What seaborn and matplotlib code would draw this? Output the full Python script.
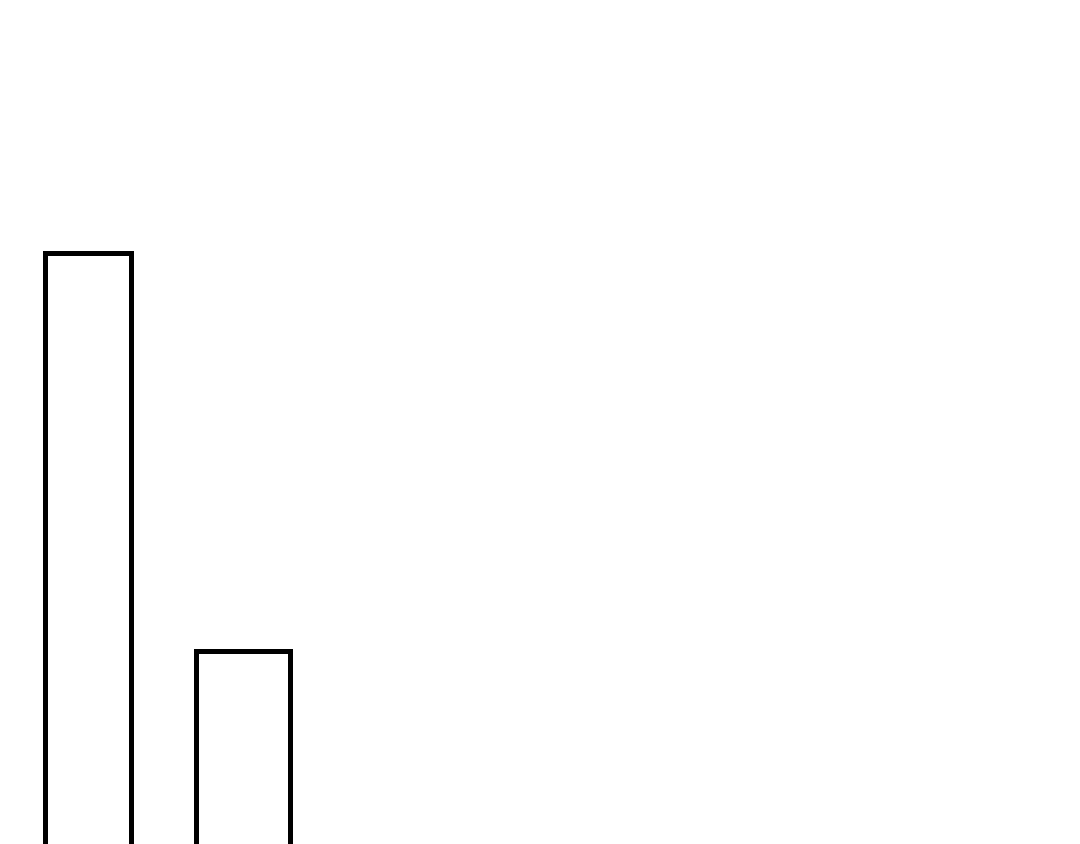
import matplotlib
matplotlib.use("Agg")
import matplotlib.pyplot as plt
import seaborn as sns
import pandas as pd

categories = ["A", "B"]
values = [10, 5]

sns.set_theme(style="white")
df = pd.DataFrame({"category": categories, "value": values})

fig = plt.figure(figsize=(10.8, 8.44), dpi=100)
ax = fig.add_axes([0, 0, 1, 1])
sns.barplot(data=df, x="category", y="value", ax=ax, color="white",
            edgecolor="black", linewidth=3.6, width=0.575, saturation=1)

# per-bar widths (styling)
bar_widths = [0.55, 0.605]
for p, w in zip(ax.patches, bar_widths):
    c = p.get_x() + p.get_width() / 2
    p.set_x(c - w / 2)
    p.set_width(w)

ax.set_xlim(-88 / 155, (1080 - 88) / 155)
ax.set_ylim(10 - 591 / 79.6, 10 + 253 / 79.6)
ax.axis("off")
fig.savefig("out.png", dpi=100, facecolor="white")
